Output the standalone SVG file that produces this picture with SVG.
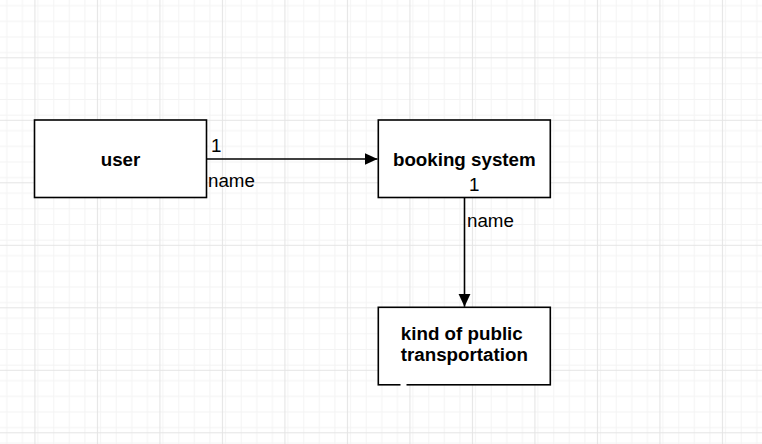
<svg xmlns="http://www.w3.org/2000/svg" width="762" height="444" viewBox="0 0 762 444">
<style>
.box{fill:#ffffff;stroke:#000000;stroke-width:1.6}
.lbl{font-family:"Liberation Sans",Arial,sans-serif;font-size:18.75px;fill:#000000}
.bold{font-weight:bold;text-anchor:middle}
.edge{fill:none;stroke:#000000;stroke-width:1.6}
</style>
<defs>
<pattern id="minor" x="34.4" y="57.3" width="15.625" height="15.625" patternUnits="userSpaceOnUse">
<path d="M0 0.5H15.625M0.5 0V15.625" fill="none" stroke="#f3f3f3" stroke-width="1"/>
</pattern>
<pattern id="major" x="34.4" y="57.3" width="62.5" height="62.5" patternUnits="userSpaceOnUse">
<rect width="62.5" height="62.5" fill="url(#minor)"/>
<path d="M0 0.5H62.5M0.5 0V62.5" fill="none" stroke="#e4e4e4" stroke-width="1.2"/>
</pattern>
<marker id="arrow" markerUnits="userSpaceOnUse" markerWidth="14" markerHeight="14" refX="13" refY="6.5" orient="auto">
<path d="M0 0.5L13 6.5L0 12.5Z" fill="#000000"/>
</marker>
</defs>
<rect width="762" height="444" fill="#ffffff"/>
<rect width="762" height="444" fill="url(#major)"/>
<g id="user">
<rect class="box" x="34.5" y="120" width="172" height="77.5"/>
<text class="lbl bold" x="120.5" y="165.5">user</text>
</g>
<g id="booking-system">
<rect class="box" x="378.3" y="120" width="172" height="77.5"/>
<text class="lbl bold" x="464.3" y="165.5">booking system</text>
</g>
<g id="kind-of-public-transportation">
<rect class="box" x="378.3" y="307.3" width="172" height="77.5"/>
<text class="lbl bold" x="461.8" y="340">kind of public</text>
<text class="lbl bold" x="464.3" y="361">transportation</text>
<rect x="400.5" y="383.5" width="6" height="3" fill="#ffffff"/>
</g>
<g id="connectors">
<g id="edge-user-booking">
<path class="edge" d="M206.5 159H377.5" marker-end="url(#arrow)"/>
<text class="lbl" x="211" y="152">1</text>
<text class="lbl" x="208" y="187">name</text>
</g>
<g id="edge-booking-transport">
<path class="edge" d="M464.5 197.5V306.8" marker-end="url(#arrow)"/>
<text class="lbl" x="469" y="190.5">1</text>
<text class="lbl" x="467" y="226.5">name</text>
</g>
</g>
</svg>
